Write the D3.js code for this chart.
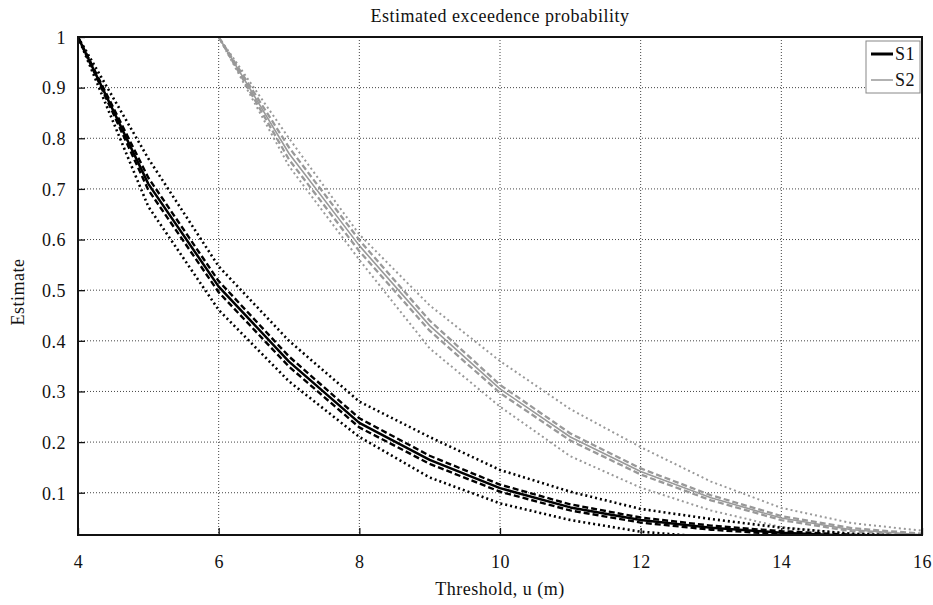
<!DOCTYPE html>
<html><head><meta charset="utf-8">
<script src="https://cdn.jsdelivr.net/npm/d3@7"></script>
<style>
html,body{margin:0;padding:0;background:#fff;}
svg text{font-family:"Liberation Serif","Times New Roman",serif;fill:#111;}
</style></head><body>
<svg id="chart" width="933" height="605"></svg>
<script>
// ---- data ----
const titleText = "Estimated exceedence probability";
const xLabel = "Threshold, u (m)";
const yLabel = "Estimate";
const xTicks = [4, 6, 8, 10, 12, 14, 16];
const yTicks = [0.1, 0.2, 0.3, 0.4, 0.5, 0.6, 0.7, 0.8, 0.9, 1];
const seriesNames = ["S1", "S2"];

const s1X      = [4, 5, 6, 7, 8, 9, 10, 11, 12, 13, 14, 15, 16];
const s1Mean   = [1, 0.71, 0.507, 0.359, 0.238, 0.165, 0.109, 0.071, 0.046, 0.031, 0.021, 0.015, 0.012];
const s1InLo   = [1, 0.698, 0.496, 0.349, 0.229, 0.157, 0.102, 0.065, 0.041, 0.027, 0.018, 0.013, 0.010];
const s1InHi   = [1, 0.722, 0.518, 0.369, 0.247, 0.173, 0.116, 0.077, 0.051, 0.035, 0.024, 0.017, 0.014];
const s1OutLo  = [1, 0.665, 0.461, 0.320, 0.210, 0.130, 0.079, 0.046, 0.023, 0.012, 0.008, 0.006, 0.005];
const s1OutHi  = [1, 0.760, 0.547, 0.400, 0.280, 0.210, 0.145, 0.102, 0.068, 0.048, 0.031, 0.019, 0.014];

const s2X      = [6, 7, 8, 9, 10, 11, 12, 13, 14, 15, 16];
const s2Mean   = [1, 0.77, 0.588, 0.43, 0.305, 0.21, 0.142, 0.09, 0.05, 0.027, 0.017];
const s2InLo   = [1, 0.758, 0.577, 0.420, 0.297, 0.203, 0.136, 0.085, 0.046, 0.024, 0.015];
const s2InHi   = [1, 0.782, 0.599, 0.440, 0.313, 0.217, 0.148, 0.095, 0.054, 0.030, 0.019];
const s2OutLo  = [1, 0.745, 0.560, 0.385, 0.270, 0.172, 0.110, 0.065, 0.032, 0.019, 0.015];
const s2OutHi  = [1, 0.800, 0.610, 0.470, 0.360, 0.265, 0.190, 0.122, 0.070, 0.040, 0.025];

// ---- layout ----
const W = 933, H = 605;
const m = {left: 78, top: 37, right: 11, bottom: 70};
const iw = W - m.left - m.right, ih = H - m.top - m.bottom;

const svg = d3.select("#chart");
const x = d3.scaleLinear().domain([4, 16]).range([m.left, m.left + iw]);
const y = d3.scaleLinear().domain([0.0165, 1]).range([m.top + ih, m.top]);

svg.append("rect").attr("width", W).attr("height", H).attr("fill", "#fff");

svg.append("defs").append("clipPath").attr("id", "clip")
  .append("rect").attr("x", m.left).attr("y", m.top - 2).attr("width", iw).attr("height", ih + 2);

// grid
const grid = svg.append("g");
grid.selectAll("line.gx").data(xTicks.slice(1, -1)).join("line")
  .attr("x1", d => x(d)).attr("x2", d => x(d))
  .attr("y1", m.top).attr("y2", m.top + ih)
  .attr("stroke", "#444").attr("stroke-width", 1).attr("stroke-dasharray", "1,2");
grid.selectAll("line.gy").data(yTicks.slice(0, -1)).join("line")
  .attr("x1", m.left).attr("x2", m.left + iw)
  .attr("y1", d => y(d)).attr("y2", d => y(d))
  .attr("stroke", "#444").attr("stroke-width", 1).attr("stroke-dasharray", "1,2");

// axes (ticks inward)
const xAxis = d3.axisBottom(x).tickValues(xTicks).tickSize(-7).tickPadding(20).tickFormat(d3.format("d"));
const yAxis = d3.axisLeft(y).tickValues(yTicks).tickSize(-7).tickPadding(12).tickFormat(d => d === 1 ? "1" : d3.format(".1f")(d));
const gx = svg.append("g").attr("transform", `translate(0,${m.top + ih})`).call(xAxis);
const gy = svg.append("g").attr("transform", `translate(${m.left},0)`).call(yAxis);
[gx, gy].forEach(g => {
  g.select(".domain").remove();
  g.selectAll(".tick line").attr("stroke", "#111").attr("stroke-width", 1.3);
  g.selectAll(".tick text").attr("font-family", "Liberation Serif, serif")
    .attr("font-size", 18).attr("letter-spacing", "0.5px").attr("fill", "#111");
});
gy.selectAll(".tick text").attr("dy", "0.35em");

// lines
const plot = svg.append("g").attr("clip-path", "url(#clip)");
function addLine(xs, ys, color, width, dash) {
  const pts = xs.map((d, i) => [d, ys[i]]);
  plot.append("path").datum(pts)
    .attr("fill", "none").attr("stroke", color).attr("stroke-width", width)
    .attr("stroke-dasharray", dash || null)
    .attr("stroke-linejoin", "round")
    .attr("d", d3.line().x(d => x(d[0])).y(d => y(d[1])));
}
const grey = "#999";
// S2
addLine(s2X, s2OutLo, grey, 2, "2,3");
addLine(s2X, s2OutHi, grey, 2, "2,3");
addLine(s2X, s2InLo, grey, 2.3, "6,3");
addLine(s2X, s2InHi, grey, 2.3, "6,3");
addLine(s2X, s2Mean, grey, 1.6);
// S1
addLine(s1X, s1OutLo, "#000", 2.6, "2,3");
addLine(s1X, s1OutHi, "#000", 2.6, "2,3");
addLine(s1X, s1InLo, "#000", 2.4, "6,3");
addLine(s1X, s1InHi, "#000", 2.4, "6,3");
addLine(s1X, s1Mean, "#000", 2.5);

// frame
svg.append("rect").attr("x", m.left).attr("y", m.top).attr("width", iw).attr("height", ih)
  .attr("fill", "none").attr("stroke", "#111").attr("stroke-width", 2);

// legend
const lg = svg.append("g");
lg.append("rect").attr("x", 866).attr("y", 41).attr("width", 54).attr("height", 52)
  .attr("fill", "#fff").attr("stroke", "#888").attr("stroke-width", 1);
const legColors = ["#000", grey], legWidths = [3, 1.5];
seriesNames.forEach((s, i) => {
  const yy = 54 + i * 26;
  lg.append("line").attr("x1", 871).attr("x2", 893).attr("y1", yy).attr("y2", yy)
    .attr("stroke", legColors[i]).attr("stroke-width", legWidths[i]);
  lg.append("text").attr("x", 895).attr("y", yy + 6).attr("font-size", 18)
    .attr("letter-spacing", "0.5px").text(s);
});

// titles
svg.append("text").attr("x", x(10)).attr("y", 22).attr("text-anchor", "middle")
  .attr("font-size", 18).attr("letter-spacing", "0.5px").text(titleText);
svg.append("text").attr("x", x(10)).attr("y", 595).attr("text-anchor", "middle")
  .attr("font-size", 18).attr("letter-spacing", "0.5px").text(xLabel);
svg.append("text").attr("transform", `translate(24,${m.top + ih / 2 + 6}) rotate(-90)`)
  .attr("text-anchor", "middle").attr("font-size", 18).attr("letter-spacing", "0.5px").text(yLabel);
</script>
</body></html>
